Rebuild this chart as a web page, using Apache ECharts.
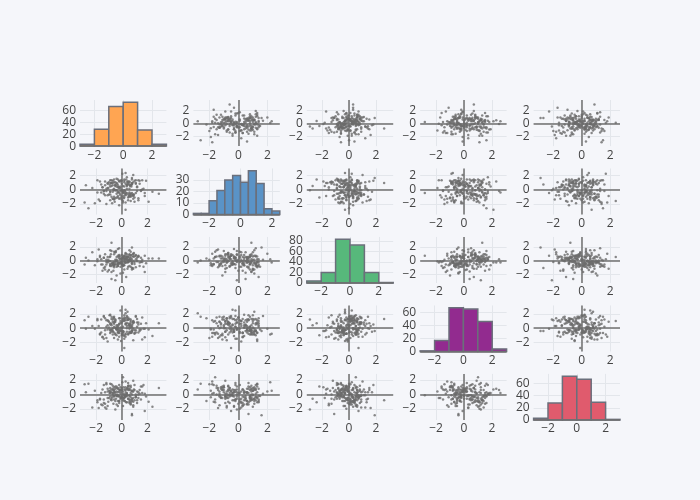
<!DOCTYPE html>
<html><head><meta charset="utf-8">
<script src="https://cdn.jsdelivr.net/npm/echarts@6/dist/echarts.min.js"></script>
<style>html,body{margin:0;padding:0;background:#f5f6fa}#c{width:700px;height:500px}</style>
</head><body><div id="c"></div><script>
// ---- data: five variables, 200 samples each ----
const v1=[0.3,-0.7,1.2,-0.2,0.8,-1.4,0.1,-0.5,0.6,-1.1,0.4,-0.3,1.6,0.2,-0.8,0.9,-0.1,-1.7,0.5,-0.4,
-0.6,0.7,-2.3,0.0,1.1,-0.9,0.35,-1.2,0.65,-0.15,1.4,-0.45,0.15,-1.6,0.85,-0.25,0.45,1.8,-0.55,-0.85,
0.25,-1.3,0.55,-0.05,0.95,-0.65,1.3,-0.35,0.05,-1.9,0.75,-0.75,0.45,2.4,-0.95,0.15,-0.2,1.0,-1.05,0.6,
-0.4,0.9,-1.5,0.3,-0.1,1.5,-0.7,0.7,-0.3,0.2,-2.6,0.8,-0.6,1.1,0.0,-1.2,0.5,-0.8,0.4,-0.2,
1.3,-0.5,0.1,-1.0,0.6,-0.9,0.3,1.9,-0.4,-0.1,0.8,-1.8,0.2,-0.6,0.7,-0.3,1.2,-1.3,0.5,0.0,
-0.2,0.4,-0.8,2.1,-0.5,0.9,-1.1,0.1,-0.7,0.6,1.7,-0.3,0.3,-1.4,0.8,-0.9,0.2,-0.1,1.0,-0.6,
0.5,-1.6,0.7,-0.4,0.0,1.4,-0.2,-0.9,0.3,-1.1,0.9,-0.5,0.1,1.1,-0.7,0.6,-2.1,0.4,-0.3,0.8,
-0.1,1.2,-0.6,0.2,-1.2,0.7,-0.8,0.5,2.9,-0.4,0.1,-1.5,0.6,-0.2,1.6,-0.7,0.3,-1.0,0.9,-0.5,
0.4,-0.3,-1.9,0.8,-0.6,1.0,0.2,-0.9,0.6,-1.3,0.0,-0.1,1.5,-0.8,0.7,-0.4,0.3,-1.7,0.9,-2.8,
-0.7,0.2,1.8,-0.2,0.5,-1.1,0.1,-0.5,0.7,-0.3,1.3,-1.4,0.4,-0.6,0.8,-0.9,0.6,-2.9,1.1,0.3];
const v2=[-0.6,1.2,0.3,-1.3,0.8,-0.2,-1.8,0.6,1.1,-0.8,0.1,-0.4,1.3,-1.1,0.9,-0.7,0.4,-1.6,0.7,-0.1,
1.0,-0.9,0.2,-1.4,0.8,-0.3,1.4,-2.0,0.5,-0.6,1.2,-0.1,-1.2,0.7,-0.8,0.3,1.1,-0.5,-1.7,0.9,
-0.2,0.6,-1.0,1.3,-0.7,0.0,-1.5,0.8,2.2,-0.4,0.4,-1.9,1.0,-0.3,0.7,-0.9,1.2,-1.1,0.2,-0.6,
0.9,-1.3,0.3,-0.8,1.1,-0.2,0.6,-1.6,1.4,-0.5,-2.6,0.8,-0.1,1.3,-1.0,0.1,-0.7,0.5,1.7,-0.4,
-1.2,0.7,-0.3,1.0,-0.9,0.4,-1.8,1.2,-0.6,0.2,0.9,-1.4,-0.1,1.4,-0.7,0.6,-0.2,1.1,-1.1,0.8,
0.3,-0.5,1.3,-1.7,0.5,-0.8,0.9,-0.3,-1.3,1.0,0.1,-0.9,2.3,-0.6,0.7,-1.5,0.4,-0.2,1.2,-1.0,
1.1,-0.4,0.6,-1.1,-0.1,0.8,-2.2,1.3,-0.7,0.2,1.0,-1.2,0.5,-0.5,0.9,-0.9,-1.9,0.7,-0.3,1.4,
-0.8,0.4,-1.4,1.2,-0.2,0.6,-1.0,0.9,-0.6,1.5,-1.6,0.3,-0.4,1.1,0.0,-1.3,0.8,-0.7,2.0,-0.1,
0.5,-1.1,1.3,-0.5,0.1,-1.7,1.0,-0.3,0.7,-0.8,1.2,-1.2,-0.1,0.9,-0.6,0.4,-2.8,1.1,-0.9,0.6,
-0.3,1.4,-0.9,0.2,-1.5,0.8,-0.5,1.0,-1.0,0.3,1.3,-0.2,0.6,-1.3,1.6,-0.7,0.1,-1.8,0.9,-0.4];
const v3=[0.2,-0.5,-0.1,0.7,-1.3,0.4,-0.8,0.1,1.5,-0.3,0.6,-0.6,-0.2,0.3,-1.7,0.9,-0.4,0.5,-0.9,0.0,
-0.7,0.3,1.2,-0.2,0.8,-0.5,-2.4,0.1,-0.1,0.6,-0.8,1.4,-0.4,0.2,-1.1,0.5,-0.3,0.7,-0.6,0.9,
0.4,-0.9,0.0,-0.3,1.1,-1.5,0.6,-0.6,0.2,-0.1,0.8,-0.4,-1.2,0.3,0.5,-0.7,1.8,-0.2,0.1,-0.8,
-0.1,0.6,-0.6,0.2,-1.9,0.4,-0.3,1.3,-0.8,0.7,0.0,-0.5,0.9,-1.0,0.3,-0.2,0.5,-2.7,0.1,-0.4,
0.7,-0.2,0.4,-1.4,0.1,-0.7,1.0,-0.4,0.5,-0.9,0.2,1.6,-0.1,-0.6,0.8,-0.3,0.0,-1.3,0.6,-0.5,
-0.4,0.9,-0.8,0.3,1.2,-0.1,-1.6,0.5,-0.5,0.1,-0.9,0.7,-0.3,0.4,-1.1,1.5,-0.7,0.2,0.6,-0.2,
0.1,-0.6,0.5,-2.2,0.8,-0.3,0.3,-0.8,1.1,-0.1,0.6,-0.5,-1.8,0.2,-0.4,0.9,-0.7,0.4,1.7,-0.2,
-0.3,0.4,-1.0,0.7,-0.6,0.0,1.4,-0.2,0.3,-0.9,0.5,-1.5,0.8,-0.4,0.1,-0.7,0.6,-0.1,1.0,-2.9,
0.5,-0.8,0.2,-0.4,1.3,-0.5,-1.3,0.6,-0.1,0.9,-0.6,0.3,-0.2,2.6,-0.9,0.1,-0.3,0.7,-1.2,0.4,
-0.5,0.2,-1.7,0.8,-0.2,0.5,-0.7,1.2,0.0,-0.4,0.6,-1.1,0.3,-0.8,1.9,-0.1,0.4,-0.6,0.7,-0.3];
const v4=[0.6,-0.4,1.3,-1.2,0.2,1.7,-0.7,0.9,-0.1,1.1,-0.5,0.4,-1.6,1.5,-0.3,0.8,0.1,-0.9,1.2,-0.2,
-0.6,1.0,0.3,-0.8,1.6,-0.2,0.7,-1.4,0.5,1.4,-0.4,0.0,-1.0,1.2,0.6,-0.7,2.3,-0.1,0.9,-0.5,
1.1,-0.3,0.4,-1.8,0.8,1.5,-0.6,0.2,-0.9,1.3,0.1,-0.2,0.7,-1.1,1.8,-0.5,0.5,-0.8,1.0,0.3,
-0.1,0.9,-1.3,1.4,-0.4,0.6,1.2,-0.7,0.2,-2.8,1.6,-0.3,0.8,-0.6,0.0,1.1,-0.9,0.4,1.7,-0.2,
0.5,-0.8,1.3,0.1,-0.5,1.9,-1.2,0.7,-0.1,1.0,-0.6,0.3,-1.5,1.4,0.8,-0.3,0.2,-0.9,1.2,-0.4,
-0.7,1.5,0.6,-0.2,1.1,-1.7,0.4,-0.5,0.9,1.3,-0.1,0.0,-0.8,1.6,-0.4,0.7,-1.1,2.5,-0.3,0.2,
1.2,-0.6,0.3,-1.0,0.8,-0.2,1.4,-0.7,0.5,-1.9,1.0,0.1,-0.4,1.7,-0.9,0.6,-0.1,1.1,-0.5,0.4,
-0.3,0.8,-1.4,1.3,0.2,-0.6,1.6,-0.8,0.7,-0.2,1.0,-1.2,0.5,-0.5,1.5,0.0,-0.9,0.9,-0.1,1.2,
0.3,-1.6,1.1,-0.4,0.6,-0.7,1.8,-0.3,0.1,1.4,-1.0,0.7,-0.2,1.3,-0.6,0.4,2.1,-0.8,0.9,-0.1,
-0.5,1.0,-1.3,0.6,1.5,-0.2,0.2,-0.9,1.2,-0.6,0.8,-1.5,0.0,1.6,-0.4,0.5,-0.7,1.1,-0.3,2.6];
const v5=[-0.3,0.8,-1.2,0.4,-0.6,1.3,0.1,-0.9,0.6,-1.6,0.2,-0.1,1.1,-0.5,0.7,-1.0,0.3,-0.7,1.6,0.0,
0.5,-0.4,-1.8,0.9,-0.2,0.3,-1.1,1.4,-0.8,0.6,0.1,-0.6,1.0,-1.4,0.4,-0.3,0.8,-2.3,0.2,-0.7,
-0.9,0.3,1.2,-0.5,0.7,-1.3,0.0,-0.2,1.7,-0.8,0.5,-0.4,0.9,-1.7,0.2,-0.6,1.3,0.6,-1.0,-0.1,
0.4,-1.5,0.7,-0.3,1.0,-0.7,0.2,-1.1,0.8,-0.1,1.5,-0.9,0.3,-0.4,0.6,-2.0,1.1,-0.6,0.1,-0.2,
-0.5,1.1,-0.8,0.5,-1.2,0.2,1.8,-0.3,0.9,-0.6,0.0,-1.9,0.7,-0.2,1.2,-0.9,0.4,-1.3,0.6,-0.4,
0.7,-0.1,1.4,-1.0,0.3,-0.5,0.8,-1.6,0.1,-0.7,1.3,-0.2,0.5,-1.2,-2.7,0.9,-0.4,0.6,-0.8,1.0,
-0.6,0.2,-1.4,1.1,-0.3,0.6,-0.9,1.5,-0.1,0.4,-1.7,0.8,-0.5,0.0,1.2,-0.2,0.5,-1.1,0.3,-0.7,
0.1,-0.8,0.6,-0.4,1.6,-1.3,0.3,-0.6,0.9,-0.2,2.4,-1.5,0.7,-0.9,0.2,-0.1,1.0,-0.5,0.4,-2.1,
-0.2,0.9,-1.1,0.5,-0.7,1.3,0.0,-0.3,0.8,-1.8,0.6,-0.4,1.1,-0.8,0.2,-1.4,0.7,-0.6,1.9,0.3,
0.6,-0.9,0.1,-1.2,1.2,-0.5,0.4,-0.1,1.0,-1.6,0.3,-0.7,0.8,-0.3,-2.9,0.5,-1.0,1.4,-0.4,0.2];

// histogram counts on the diagonal
const hist1=[3,28,66,73,27,3];
const hist2=[1,1,12,21,30,34,28,38,27,5,3];
const hist3=[4,20,83,72,20,1];
const hist4=[1,17,67,65,46,4];
const hist5=[3,28,72,67,29,1];
const histBinStart=[-3,-3,-3,-3,-3];
const histBinSize=[1,0.5,1,1,1];
const histYTicks=[[0,20,40,60],[0,10,20,30],[0,20,40,60,80],[0,20,40,60],[0,20,40,60]];
const xTicks=[-2,0,2];
const yTicks=[-2,0,2];
// scatter axis ranges per variable (as seen in the picture)
const scatterXRange=[[-3.26,3.49],[-3.1,2.86],[-3.13,3.27],[-3.13,3.04],[-3.39,2.7]];
const scatterYRange=[[-3.5,3.58],[-3.48,2.92],[-3.3,3.45],[-3.3,3.2],[-3.55,2.85]];
const histColors=['#ffa552','#5a93c7','#57b87b','#922b8f','#e05b6d'];

const vars=[v1,v2,v3,v4,v5];
const hists=[hist1,hist2,hist3,hist4,hist5];

const L=80,T=100,PW=540,PH=320,HS=0.05,VS=0.07,N=5;
const cw=PW*(1-(N-1)*HS)/N, ch=PH*(1-(N-1)*VS)/N;
const FONT='"Open Sans", sans-serif';
const TXT='#444', GRID='#e3e6eb', ZERO='#6f6f6f', PT='#6c6c6c';
const fmt=v=>v<0?'\u2212'+Math.abs(v):String(v);
const lab=(vals,margin)=>({customValues:vals,margin,formatter:fmt,color:TXT,fontSize:12,fontFamily:FONT,
  showMinLabel:true,showMaxLabel:true,hideOverlap:false});

const grid=[],xAxis=[],yAxis=[],series=[];
for(let r=0;r<N;r++){
  for(let c=0;c<N;c++){
    const k=r*N+c;
    grid.push({left:L+c*(cw+PW*HS),top:T+r*(ch+PH*VS),width:cw,height:ch,containLabel:false,outerBoundsMode:'none'});
    const isHist=r===c;
    let xr,yr,yt;
    if(isHist){
      const h=hists[r];
      xr=[histBinStart[r],histBinStart[r]+histBinSize[r]*h.length];
      yr=[0,Math.max(...h)*1.053];
      yt=histYTicks[r];
    }else{
      xr=scatterXRange[c]; yr=scatterYRange[r]; yt=yTicks;
    }
    xAxis.push({type:'value',gridIndex:k,min:xr[0],max:xr[1],
      axisLine:{show:false},axisTick:{show:false,customValues:xTicks},
      axisLabel:lab(xTicks,3),
      splitLine:{show:true,lineStyle:{color:GRID,width:1}}});
    const yi=yAxis.length;
    // tightly packed histogram tick labels are split over two overlaid axes so none is dropped
    const evenT=isHist?yt.filter((_,i)=>i%2===0):yt;
    yAxis.push({type:'value',gridIndex:k,min:yr[0],max:yr[1],position:'left',
      axisLine:{show:false},axisTick:{show:false,customValues:yt},
      axisLabel:lab(evenT,4),
      splitLine:{show:true,lineStyle:{color:GRID,width:1}}});
    if(isHist){
      const oddT=yt.filter((_,i)=>i%2===1);
      yAxis.push({type:'value',gridIndex:k,min:yr[0],max:yr[1],position:'left',offset:0,
        axisLine:{show:false},axisTick:{show:false,customValues:oddT},
        axisLabel:lab(oddT,4),splitLine:{show:false}});
    }
    if(isHist){
      const h=hists[r];
      const data=h.map((n,i)=>[histBinStart[r]+i*histBinSize[r],histBinStart[r]+(i+1)*histBinSize[r],n]);
      const col=histColors[r];
      series.push({type:'custom',xAxisIndex:k,yAxisIndex:yi,data,encode:{x:[0,1],y:2},z:2,
        renderItem:(params,api)=>{
          const p0=api.coord([api.value(0),api.value(2)]);
          const p1=api.coord([api.value(1),0]);
          return {type:'rect',shape:{x:p0[0],y:p0[1],width:p1[0]-p0[0],height:p1[1]-p0[1]},
            style:{fill:col,stroke:'#6b6f7b',lineWidth:1.5}};
        }});
      series.push({type:'line',xAxisIndex:k,yAxisIndex:yi,data:[],z:3,
        markLine:{silent:true,symbol:'none',label:{show:false},animation:false,
          lineStyle:{color:ZERO,width:1.5,type:'solid'},data:[{yAxis:0}]}});
    }else{
      const xs=vars[c], ys=vars[r];
      series.push({type:'scatter',xAxisIndex:k,yAxisIndex:yi,symbolSize:2.5,
        itemStyle:{color:PT},data:xs.map((x,i)=>[x,ys[i]]),z:3,
        markLine:{silent:true,symbol:'none',label:{show:false},animation:false,z:1,
          lineStyle:{color:ZERO,width:1.5,type:'solid'},data:[{xAxis:0},{yAxis:0}]}});
    }
  }
}
const chart=echarts.init(document.getElementById('c'),null,{renderer:'canvas'});
chart.setOption({backgroundColor:'#f5f6fa',animation:false,grid,xAxis,yAxis,series});
</script></body></html>
